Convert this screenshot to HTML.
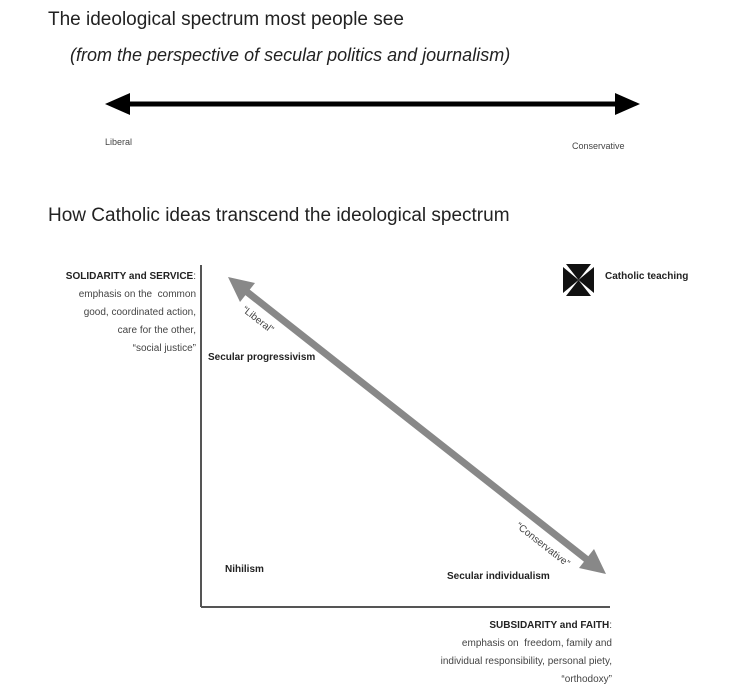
<!DOCTYPE html>
<html><head><style>
body{margin:0;width:750px;height:699px;background:#fff;position:relative;overflow:hidden;font-family:"Liberation Sans",sans-serif;color:#222}
.a{position:absolute;white-space:nowrap}
.s{font-size:10px;color:#444}
.b{font-weight:bold;color:#222}
.r{text-align:right}
</style></head><body>
<div class="a" style="left:48px;top:9px;font-size:19px">The ideological spectrum most people see</div>
<div class="a" style="left:70px;top:45px;font-size:18px;font-style:italic">(from the perspective of secular politics and journalism)</div>
<div class="a s" style="left:105px;top:137px;font-size:9px">Liberal</div>
<div class="a s" style="left:572px;top:141px;font-size:9px">Conservative</div>
<div class="a" style="left:48px;top:205px;font-size:19px">How Catholic ideas transcend the ideological spectrum</div>
<svg class="a" style="left:0;top:0" width="750" height="699">
<line x1="122" y1="104" x2="622" y2="104" stroke="#000" stroke-width="5"/>
<polygon points="105,104 130,93 130,115" fill="#000"/>
<polygon points="640,104 615,93 615,115" fill="#000"/>
<line x1="201" y1="265" x2="201" y2="607" stroke="#555" stroke-width="2"/>
<line x1="201" y1="607" x2="610" y2="607" stroke="#555" stroke-width="2"/>
<line x1="242" y1="288" x2="590" y2="562" stroke="#888" stroke-width="7"/>
<polygon points="228,277 255,283 240,302" fill="#888"/>
<polygon points="606,574 579,568 594,549" fill="#888"/>
<g fill="#111">
<polygon points="566,264 591,264 578.5,280"/>
<polygon points="566,296 591,296 578.5,280"/>
<polygon points="563,267 563,293 578.5,280"/>
<polygon points="594,267 594,293 578.5,280"/>
</g>
<text x="256" y="322" font-family="Liberation Sans" font-size="10" fill="#444" transform="rotate(38 256 322)" text-anchor="middle">“Liberal”</text>
<text x="541" y="547" font-family="Liberation Sans" font-size="10" fill="#444" transform="rotate(38 541 547)" text-anchor="middle">“Conservative”</text>
</svg>
<div class="a s r" style="right:554px;top:268px;line-height:18px"><span class="b">SOLIDARITY and SERVICE</span>:<br>emphasis on the&nbsp; common<br>good, coordinated action,<br>care for the other,<br>“social justice”</div>
<div class="a s b" style="left:208px;top:352px">Secular progressivism</div>
<div class="a s b" style="left:605px;top:271px">Catholic teaching</div>
<div class="a s b" style="left:225px;top:564px">Nihilism</div>
<div class="a s b" style="left:447px;top:571px">Secular individualism</div>
<div class="a s r" style="right:138px;top:617px;line-height:18px"><span class="b">SUBSIDARITY and FAITH</span>:<br>emphasis on&nbsp; freedom, family and<br>individual responsibility, personal piety,<br>“orthodoxy”</div>
</body></html>
